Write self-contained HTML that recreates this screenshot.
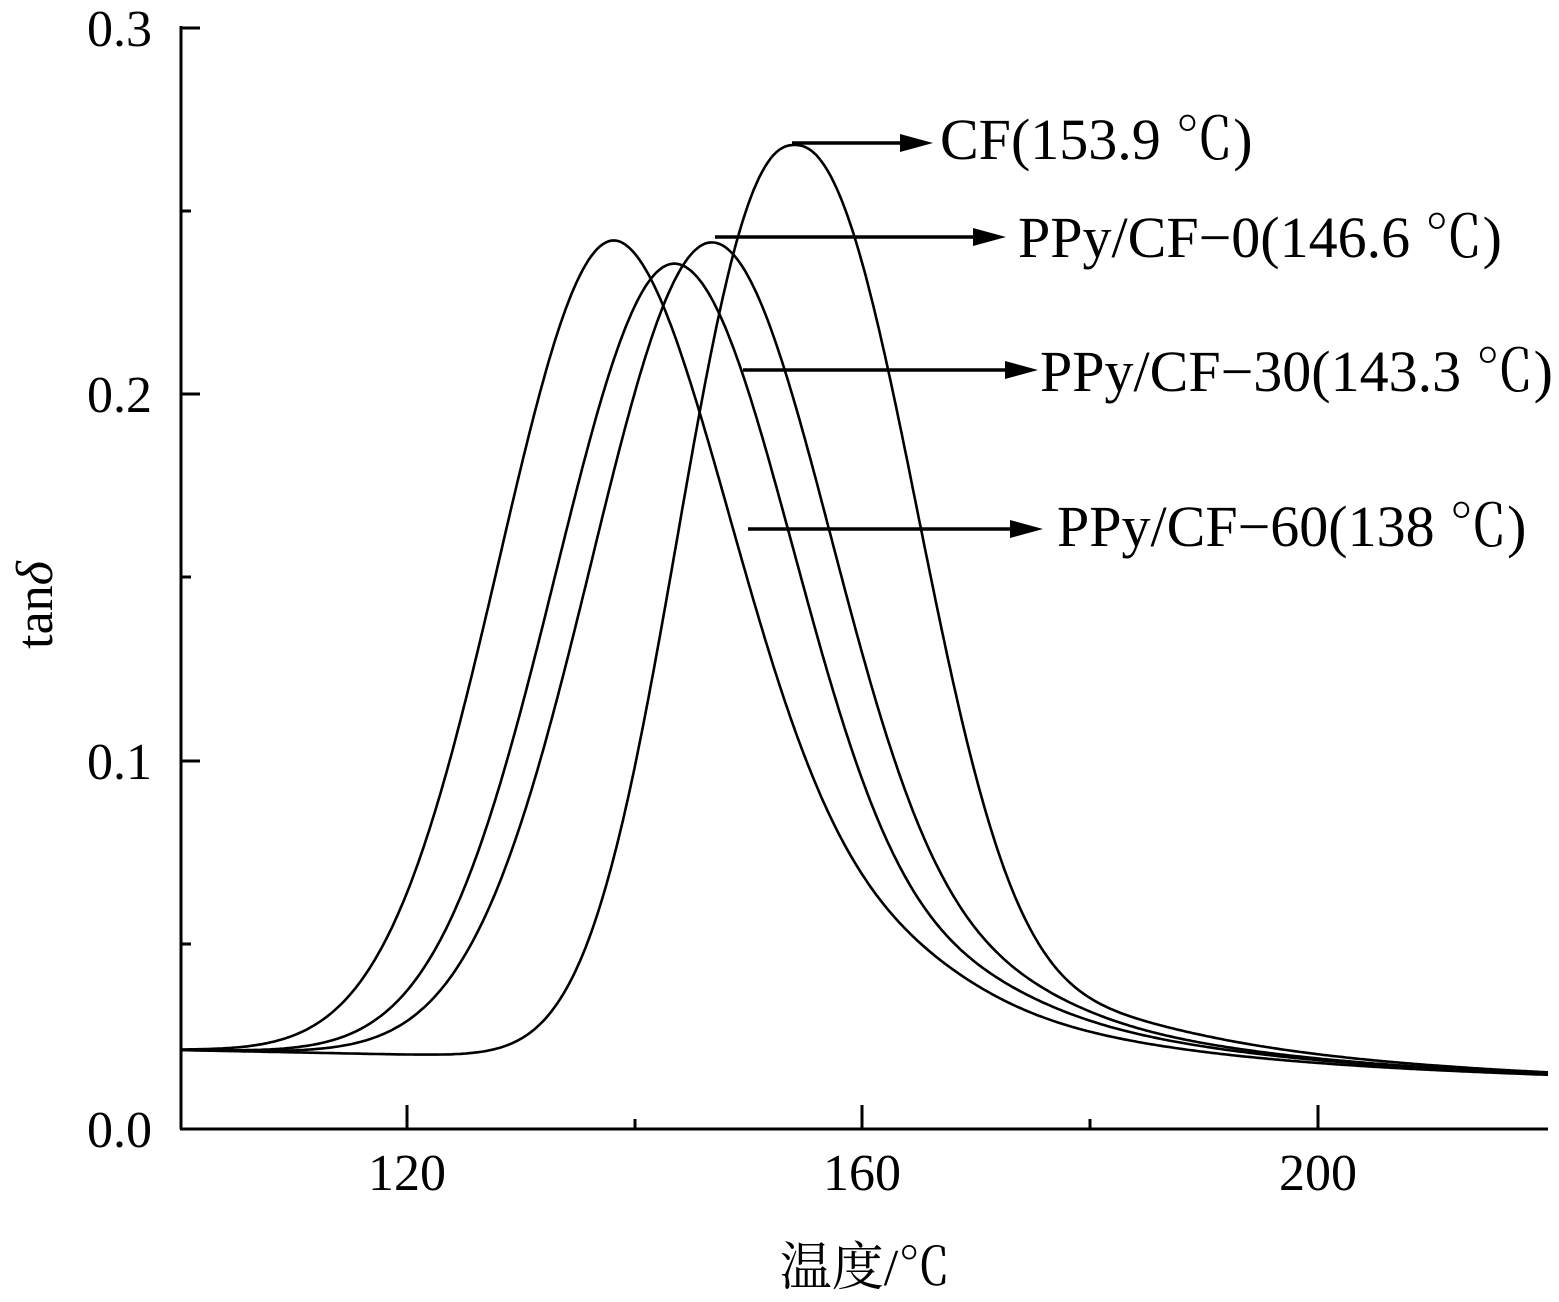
<!DOCTYPE html>
<html><head><meta charset="utf-8"><style>
html,body{margin:0;padding:0;background:#fff;}
svg{display:block;}
text{font-family:"Liberation Serif","Noto Serif CJK SC",serif;fill:#000;}
</style></head><body>
<svg id="s" width="1559" height="1302" viewBox="0 0 1559 1302" xmlns="http://www.w3.org/2000/svg">
<g stroke="#000" stroke-width="3" fill="none">
<line x1="181" y1="26" x2="181" y2="1129"/>
<line x1="180" y1="1129" x2="1548" y2="1129"/>
<line x1="181" y1="28" x2="200" y2="28"/>
<line x1="181" y1="211" x2="191" y2="211"/>
<line x1="181" y1="394" x2="200" y2="394"/>
<line x1="181" y1="577" x2="191" y2="577"/>
<line x1="181" y1="761" x2="200" y2="761"/>
<line x1="181" y1="944" x2="191" y2="944"/>
<line x1="407" y1="1129" x2="407" y2="1105"/>
<line x1="635" y1="1129" x2="635" y2="1119"/>
<line x1="862" y1="1129" x2="862" y2="1105"/>
<line x1="1090" y1="1129" x2="1090" y2="1119"/>
<line x1="1318" y1="1129" x2="1318" y2="1105"/>
</g>
<g font-size="52" text-anchor="end">
<text x="152" y="46">0.3</text>
<text x="152" y="412">0.2</text>
<text x="152" y="779">0.1</text>
<text x="152" y="1147">0.0</text>
</g>
<g font-size="52" text-anchor="middle">
<text x="407" y="1190">120</text>
<text x="862" y="1190">160</text>
<text x="1318" y="1190">200</text>
</g>
<text x="865" y="1285" font-size="52" text-anchor="middle">温度/℃</text>
<text transform="translate(52,605) rotate(-90)" font-size="52" text-anchor="middle">tan<tspan font-style="italic">δ</tspan></text>
<g id="curves" stroke="#000" stroke-width="2.6" fill="none"></g>
<g stroke="#000" stroke-width="3.5">
<line x1="792" y1="143" x2="905" y2="143"/>
<line x1="715" y1="237" x2="978" y2="237"/>
<line x1="743" y1="370" x2="1010" y2="370"/>
<line x1="748" y1="529" x2="1015" y2="529"/>
</g>
<g fill="#000">
<polygon points="900,134 933,143 900,152"/>
<polygon points="973,228 1006,237 973,246"/>
<polygon points="1005,361 1038,370 1005,379"/>
<polygon points="1010,520 1043,529 1010,538"/>
</g>
<g font-size="58">
<text x="940" y="159">CF(153.9 ℃)</text>
<text x="1018" y="257">PPy/CF−0(146.6 ℃)</text>
<text x="1040" y="391">PPy/CF−30(143.3 ℃)</text>
<text x="1057" y="546">PPy/CF−60(138 ℃)</text>
</g>
</svg>
<script>
(function(){
function X(t){return 181.5+(t-100)*455.5/40;}
function Y(v){return 1129-v*3670;}
var curves=[
 {p:153.9,A:0.25,wl:13.3,pl:2.3,wr:14.5,pr:2.2,c:0.09},
 {p:146.6,A:0.223,wl:15,pl:2.0,wr:15.5,pr:2.0,c:0.11},
 {p:143.3,A:0.217,wl:14.8,pl:2.0,wr:15.5,pr:2.0,c:0.12},
 {p:138,A:0.223,wl:14.3,pl:2.0,wr:16,pr:1.9,c:0.13}
];
var g=document.getElementById('curves');
curves.forEach(function(c){
 var d='';
 for(var t=100;t<=220.001;t+=0.25){
  var base=0.0215-(t-100)*0.0075/120;
  var dx=t-c.p,v;
  if(dx<0){v=c.A*Math.exp(-Math.pow(-dx/c.wl,c.pl));}
  else{
   var s=1-Math.exp(-Math.pow(dx/25,4));
   v=c.A*Math.exp(-Math.pow(dx/c.wr,c.pr))+c.c*Math.exp(-dx/16)*s;
  }
  var y=base+v;
  d+=(d?'L':'M')+X(t).toFixed(1)+','+Y(y).toFixed(1);
 }
 var p=document.createElementNS('http://www.w3.org/2000/svg','path');
 p.setAttribute('d',d);g.appendChild(p);
});
})();
</script>
</body></html>
